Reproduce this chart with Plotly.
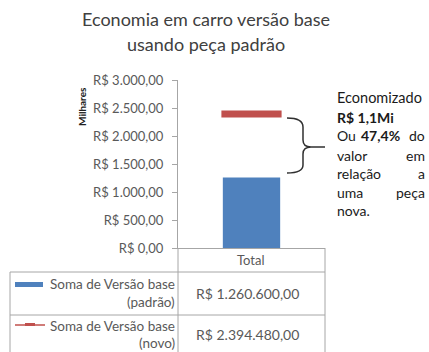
import plotly.graph_objects as go

# Data (values in R$; the axis shows them in thousands - "Milhares")
categories = ["Total"]
series_names = ["Soma de Versão base (padrão)", "Soma de Versão base (novo)"]
valor_padrao = [1260600.00]
valor_novo = [2394480.00]
y_ticks = [0, 500, 1000, 1500, 2000, 2500, 3000]
chart_title = ["Economia em carro versão base", "usando peça padrão"]

FONT = "Lato"
BLUE = "#4F81BD"
RED = "#C0504D"
GRID = "#A6A6A6"
TXT = "#404040"
AX_TXT = "#595959"

W, H = 429, 352
L, R, T, B = 178, 104, 80, 104
PW, PH = W - L - R, H - T - B


def fmt_brl(v):
    s = f"{v:,.2f}"
    s = s.replace(",", "X").replace(".", ",").replace("X", ".")
    return "R$ " + s


def px(x):
    return (x - L) / PW


def py(y):
    return (T + PH - y) / PH


fig = go.Figure()

fig.add_trace(go.Bar(
    x=categories, y=[v / 1000 for v in valor_padrao], name=series_names[0],
    marker=dict(color=BLUE, line=dict(width=0)), width=0.39,
))
fig.add_trace(go.Scatter(
    x=categories, y=[v / 1000 for v in valor_novo], name=series_names[1],
    mode="markers",
    marker=dict(symbol="line-ew", size=43, color=RED,
                line=dict(color=RED, width=7)),
))

shapes = []


def hline(x0, x1, y, color=GRID, width=1):
    shapes.append(dict(type="line", xref="paper", yref="paper",
                       x0=px(x0), x1=px(x1), y0=py(y), y1=py(y),
                       line=dict(color=color, width=width)))


def vline(x, y0, y1, color=GRID, width=1):
    shapes.append(dict(type="line", xref="paper", yref="paper",
                       x0=px(x), x1=px(x), y0=py(y0), y1=py(y1),
                       line=dict(color=color, width=width)))


# data table grid
vline(178, 248, 352)
vline(325, 248, 352)
vline(10, 272, 352)
hline(10, 325, 272)
hline(10, 325, 315)

# legend keys in the table
shapes.append(dict(type="rect", xref="paper", yref="paper",
                   x0=px(15), x1=px(43), y0=py(287), y1=py(282),
                   fillcolor=BLUE, line=dict(width=0)))
hline(15, 45, 325, color=RED, width=1.5)
hline(25, 35, 324.5, color=RED, width=3)


# brace between the two values
def P(x, y):
    return f"{px(x):.5f},{py(y):.5f}"


brace = (f"M {P(287,118)} Q {P(303,118)} {P(303,127)} "
         f"L {P(303,140)} Q {P(303,147)} {P(311,147)} L {P(325,147)} "
         f"M {P(311,147)} Q {P(303,147)} {P(303,154)} "
         f"L {P(303,165)} Q {P(303,173)} {P(287,173)}")
shapes.append(dict(type="path", xref="paper", yref="paper", path=brace,
                   line=dict(color="#303030", width=1.5)))

ann = []


def text(x, y, s, size=13, anchor="center", color=TXT, angle=0):
    ann.append(dict(xref="paper", yref="paper", x=px(x), y=py(y), text=s,
                    showarrow=False, xanchor=anchor, yanchor="middle",
                    textangle=angle, borderpad=0,
                    font=dict(family=FONT, size=size, color=color)))


# title
text(206, 19, chart_title[0], size=18)
text(206, 44, chart_title[1], size=18)

# axis unit label
text(82, 107, "<b>Milhares</b>", size=10, color="#202020", angle=-90)

# table contents
text(251, 260, categories[0], size=13, color=AX_TXT)
text(176, 284, "Soma de Versão base", size=13.5, anchor="right", color=AX_TXT)
text(176, 302, "(padrão)", size=13.5, anchor="right", color=AX_TXT)
text(247, 293, fmt_brl(valor_padrao[0]), size=14, color=AX_TXT)
text(176, 326, "Soma de Versão base", size=13.5, anchor="right", color=AX_TXT)
text(176, 343, "(novo)", size=13.5, anchor="right", color=AX_TXT)
text(247, 334, fmt_brl(valor_novo[0]), size=14, color=AX_TXT)

# savings note
economia = valor_novo[0] - valor_padrao[0]
pct = economia / valor_novo[0] * 100
note_color = "#1a1a1a"
NS = 14
text(336, 97, "Economizado", size=14.5, anchor="left", color=note_color)
text(336, 117, f"<b>R$ {economia/1e6:.1f}Mi</b>".replace(".", ","), size=NS,
     anchor="left", color=note_color)
text(336, 135, "Ou", size=NS, anchor="left", color=note_color)
text(380, 135, f"<b>{pct:.1f}%</b>".replace(".", ","), size=NS,
     anchor="center", color=note_color)
text(426, 135, "do", size=NS, anchor="right", color=note_color)
for yy, a, b in [(155, "valor", "em"), (173, "relação", "a"), (192, "uma", "peça")]:
    text(336, yy, a, size=NS, anchor="left", color=note_color)
    text(426, yy, b, size=NS, anchor="right", color=note_color)
text(336, 210, "nova.", size=NS, anchor="left", color=note_color)

fig.update_layout(
    width=W, height=H,
    margin=dict(l=L, r=R, t=T, b=B, autoexpand=False),
    paper_bgcolor="white", plot_bgcolor="white",
    showlegend=False,
    shapes=shapes, annotations=ann,
    font=dict(family=FONT, color=AX_TXT),
    xaxis=dict(range=[-0.5, 0.5], showticklabels=False, showgrid=False,
               zeroline=False, showline=True, linecolor=GRID, linewidth=1,
               ticks="", fixedrange=True),
    yaxis=dict(range=[0, 3000], tickvals=y_ticks,
               ticktext=[fmt_brl(v) for v in y_ticks],
               showgrid=False, zeroline=False, showline=True,
               linecolor=GRID, linewidth=1, ticks="outside", ticklen=5,
               tickcolor=GRID, ticklabelstandoff=6,
               tickfont=dict(family=FONT, size=13, color=AX_TXT),
               fixedrange=True),
)

fig.write_html("out.html")
